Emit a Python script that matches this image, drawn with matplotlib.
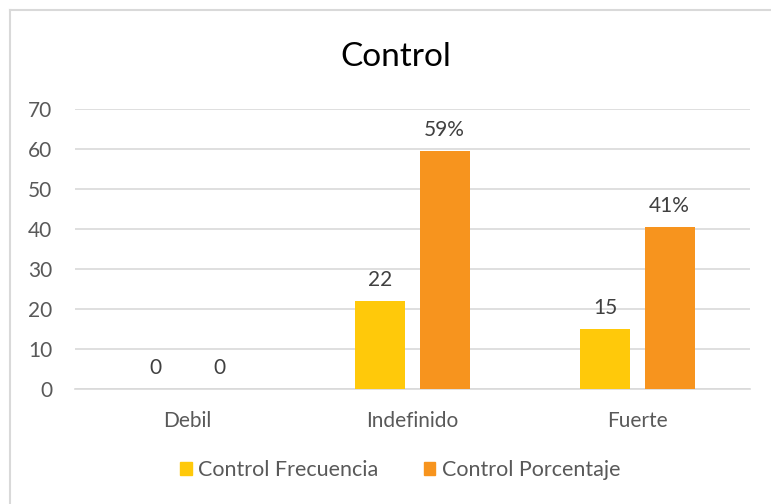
import numpy as np
import matplotlib.pyplot as plt
from matplotlib.patches import Rectangle
from matplotlib.lines import Line2D

categorias = ['Debil', 'Indefinido', 'Fuerte']
frecuencia = [0, 22, 15]
porcentaje = [0, 59.46, 40.54]
etiq_frec = ['0', '22', '15']
etiq_porc = ['0', '59%', '41%']

amarillo = '#FFC90A'
naranja = '#F7941E'

plt.rcParams['font.family'] = ['Lato', 'DejaVu Sans']

fig = plt.figure(figsize=(7.71, 5.04), dpi=100)
ax = fig.add_axes([0.0973, 0.2282, 0.8755, 0.5556])

x = np.arange(len(categorias))
w = 0.222
off = 0.143
b1 = ax.bar(x - off, frecuencia, w, color=amarillo, label='Control Frecuencia', zorder=3)
b2 = ax.bar(x + off, porcentaje, w, color=naranja, label='Control Porcentaje', zorder=3)

for rect, t in zip(b1, etiq_frec):
    ax.annotate(t, (rect.get_x() + rect.get_width() / 2, rect.get_height()),
                xytext=(0, 8), textcoords='offset points', ha='center', va='bottom',
                fontsize=15, color='#404040')
for rect, t in zip(b2, etiq_porc):
    ax.annotate(t, (rect.get_x() + rect.get_width() / 2, rect.get_height()),
                xytext=(0, 8), textcoords='offset points', ha='center', va='bottom',
                fontsize=15, color='#404040')

ax.set_xlim(-0.5, 2.5)
ax.set_ylim(0, 70)
ax.set_yticks(range(0, 71, 10))
ax.set_xticks(x)
ax.set_xticklabels(categorias)
ax.grid(axis='y', color='#D9D9D9', linewidth=1.2, zorder=0)
for s in ['top', 'right', 'left']:
    ax.spines[s].set_visible(False)
ax.spines['bottom'].set_color('#D9D9D9')
ax.spines['bottom'].set_linewidth(1.2)
ax.tick_params(axis='both', length=0, labelsize=15, labelcolor='#595959')
ax.tick_params(axis='x', pad=16)
ax.tick_params(axis='y', pad=16.5)

fig.text(0.514, 0.887, 'Control', ha='center', va='center', fontsize=24, color='#000000')

handles = [Rectangle((0, 0), 1, 1, color=amarillo), Rectangle((0, 0), 1, 1, color=naranja)]
fig.legend(handles, ['Control Frecuencia', 'Control Porcentaje'], loc='center',
           bbox_to_anchor=(0.519, 0.068), ncol=2, frameon=False, fontsize=15.5,
           labelcolor='#595959', handlelength=0.55, handleheight=0.55,
           handletextpad=0.3, columnspacing=2.1)

# borde del grafico (recortado: solo arriba e izquierda)
fig.add_artist(Line2D([0.0136, 0.0136], [0, 0.981], color='#D9D9D9', linewidth=1.5))
fig.add_artist(Line2D([0.0136, 1.0], [0.981, 0.981], color='#D9D9D9', linewidth=1.5))

fig.savefig('out.png', dpi=100)
